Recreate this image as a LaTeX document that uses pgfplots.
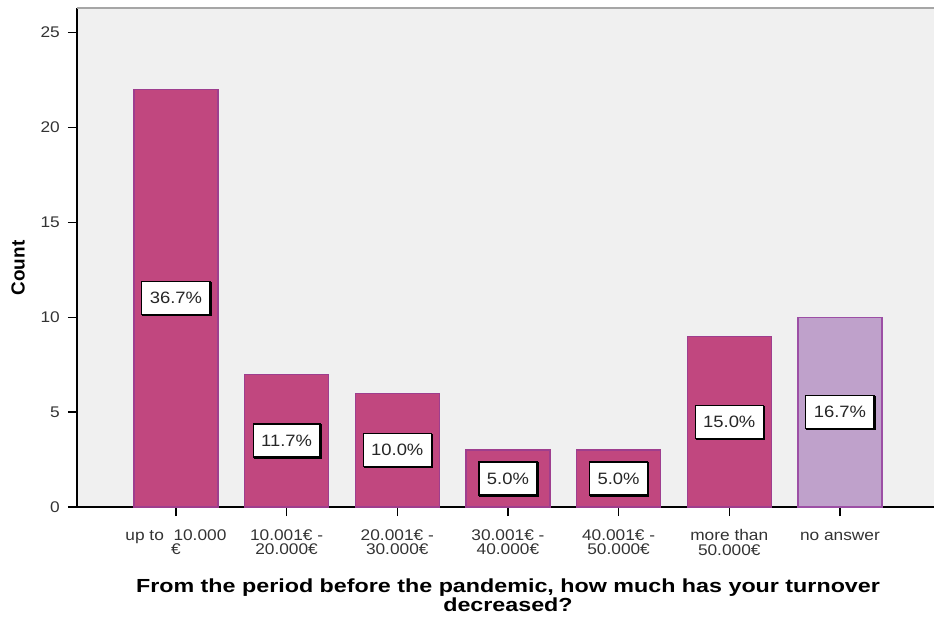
\documentclass[border=0pt]{standalone}
\usepackage{fontspec}
\setmainfont{Liberation Sans}[FakeStretch=1.12]
\newfontfamily\labelbold{Liberation Sans}
\newfontfamily\titlefont{Liberation Sans}[FakeStretch=1.23]
\usepackage{pgfplots}
\pgfplotsset{compat=1.18}
\usetikzlibrary{shadows}

\definecolor{barmag}{HTML}{C1477F}
\definecolor{baredge}{HTML}{9E3E8E}
\definecolor{barlil}{HTML}{BFA1CB}
\definecolor{liledge}{HTML}{9C4FA5}
\definecolor{plotbg}{HTML}{F0F0F0}

\newcommand{\tickfont}{\fontsize{15.5}{14.3}\selectfont}
\newcommand{\pctfont}{\fontsize{16.5}{16.5}\selectfont}
\lineskiplimit=-50pt

\begin{document}
\begin{tikzpicture}
\begin{axis}[
  scale only axis,
  width=857bp, height=499bp,
  xmin=-0.894, xmax=6.85,
  ymin=0, ymax=26.3,
  ybar, bar shift=0pt, bar width=84bp,
  axis background/.style={fill=plotbg},
  axis x line*=bottom, axis y line*=left,
  axis line style={black, line width=1.5bp},
  tick align=outside,
  major tick length=9bp,
  tick style={black, line width=1.5bp},
  ytick={0,5,...,25},
  xtick={0,...,6},
  xticklabels={{up to\ \ 10.000\\€},{10.001€ -\\20.000€},{20.001€ -\\30.000€},{30.001€ -\\40.000€},{40.001€ -\\50.000€},{more than\\50.000€},{\vphantom{h}no answer}},
  /pgf/number format/assume math mode=true,
  ticklabel style={font=\tickfont, text=black!80},
  xticklabel style={align=center, anchor=north, inner sep=0pt, yshift=-13.5bp},
  yticklabel style={anchor=east, inner sep=0pt, xshift=-8bp},
  ylabel={Count},
  ylabel style={font=\labelbold\bfseries\fontsize{19}{19}\selectfont, at={(axis description cs:-0.0688,0.479)}, anchor=center},
  xlabel={From the period before the pandemic, how much has your turnover\\decreased?},
  xlabel style={font=\titlefont\bfseries\fontsize{19}{19}\selectfont, align=center, at={(rel axis cs:0.5,0)}, anchor=north, inner sep=0pt, yshift=-72bp, xshift=2.5bp},
  point meta=explicit symbolic,
  nodes near coords,
  visualization depends on={y \as \rawy},
  every node near coord/.append style={
    font=\pctfont, text=black!85, anchor=center,
    yshift=-0.5*\rawy*18.973bp,
    fill=white, draw=black, line width=1.2bp,
    minimum height=33bp, inner xsep=8bp, inner ysep=0pt,
    drop shadow={shadow xshift=1bp, shadow yshift=-1bp, fill=black!75, opacity=1},
  },
]
  % counts per turnover band, labelled with their share of the 60 answers
  \addplot[fill=barmag, draw=baredge, line width=1.3bp] coordinates {
    (0,22) [36.7\%]
    (1,7)  [11.7\%]
    (2,6)  [10.0\%]
    (3,3)  [5.0\%]
    (4,3)  [5.0\%]
    (5,9)  [15.0\%]
  };
  \addplot[fill=barlil, draw=liledge, line width=1.3bp] coordinates {
    (6,10) [16.7\%]
  };
  \draw[black!35, line width=2bp] (rel axis cs:0,1) -- (rel axis cs:1,1);
\end{axis}
\pgfresetboundingbox
\path (current axis.south west) ++(-77bp,-116bp) rectangle ++(934bp,623bp);
\end{tikzpicture}
\end{document}
